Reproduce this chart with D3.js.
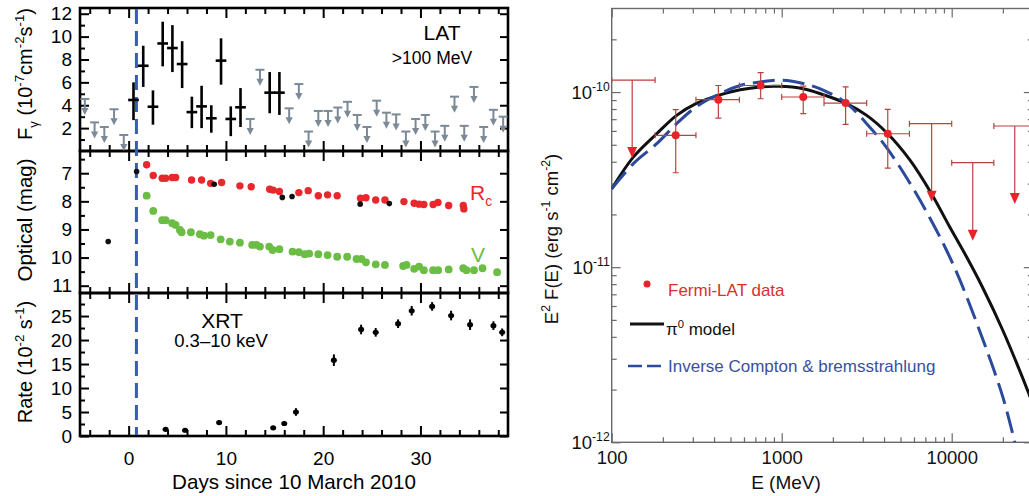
<!DOCTYPE html>
<html>
<head>
<meta charset="utf-8">
<script src="https://cdn.jsdelivr.net/npm/d3@7"></script>
<style>
  body { margin: 0; background: #fff; }
  svg text { font-family: "Liberation Sans", Arial, Helvetica, sans-serif; white-space: pre; }
</style>
</head>
<body>
<svg id="chart" width="1029" height="496"></svg>
<script>
// ---------------- Light curves (days since 10 March 2010) ----------------
// Fermi-LAT daily flux >100 MeV, units 1e-7 ph cm^-2 s^-1
const latDays = [0.5, 1.5, 2.5, 3.5, 4.5, 5.5, 6.5, 7.5, 8.5, 9.5, 10.5, 11.5, 14.5, 15.5];
const latFlux = [4.46, 7.45, 3.87, 9.4, 9.0, 7.6, 3.4, 3.9, 2.86, 7.9, 2.8, 3.82, 5.1, 5.1];
const latLow  = [2.7, 5.6, 2.3, 7.4, 6.9, 5.5, 2.0, 2.0, 1.6, 5.8, 1.3, 2.1, 3.3, 3.15];
const latHigh = [6.0, 9.2, 5.3, 11.3, 11.0, 9.6, 4.75, 5.7, 4.0, 9.85, 3.9, 5.5, 6.9, 6.9];
// LAT daily upper limits
const latUlDays = [-4.5, -3.5, -2.5, -1.5, -0.5, 12.5, 13.5, 16.5, 17.5, 18.5, 19.5, 20.5, 21.5, 22.5,
                   23.5, 24.5, 25.5, 26.5, 27.5, 28.5, 29.5, 30.5, 31.5, 32.5, 33.5, 34.5, 35.5, 36.5, 37.5, 38.5];
const latUl = [4.55, 2.5, 2.1, 3.65, 1.4, 2.8, 7.1, 3.73, 5.85, 1.7, 3.5, 3.5, 3.8, 4.3,
               3.15, 2.1, 4.4, 3.35, 3.2, 1.7, 2.8, 3.15, 1.7, 2.2, 4.75, 2.2, 5.6, 2.1, 3.6, 3.0];

// Optical photometry (mag)
const rcDays = [1.85, 2.53, 3.45, 3.8, 4.48, 4.83, 6.47, 7.5, 8.43, 9.56, 11.44, 12.6, 14.5, 14.86, 15.5,
                17.5, 18.46, 19.5, 20.45, 21.44, 23.84, 24.4, 25.4, 26.35, 28.3, 29.35, 29.86, 30.35,
                31.3, 31.8, 32.9, 34.4, 34.46];
const rcMag  = [6.70, 7.08, 7.18, 7.18, 7.15, 7.15, 7.24, 7.24, 7.36, 7.33, 7.45, 7.48, 7.57, 7.6, 7.65,
                7.69, 7.62, 7.8, 7.77, 7.8, 7.89, 7.87, 7.95, 7.95, 8.01, 8.07, 8.1, 8.11,
                8.11, 8.04, 8.15, 8.15, 8.27];
const vDays = [1.85, 2.53, 3.45, 3.8, 4.48, 4.83, 5.27, 5.45, 6.4, 7.33, 7.74, 8.43, 9.46, 10.4, 11.44,
               12.7, 13.15, 13.5, 14.45, 14.8, 15.5, 16.85, 17.5, 18.1, 18.56, 19.5, 20.45, 21.44,
               22.47, 23.43, 23.94, 24.4, 25.4, 26.35, 28.22, 28.57, 29.35, 29.86, 30.35, 31.3, 31.82,
               32.9, 34.4, 34.73, 35.5, 36.38, 37.88];
const vMag  = [7.8, 8.34, 8.67, 8.67, 8.78, 8.84, 9.02, 9.1, 9.1, 9.17, 9.22, 9.2, 9.35, 9.43, 9.47,
               9.55, 9.55, 9.61, 9.61, 9.73, 9.7, 9.79, 9.81, 9.88, 9.86, 9.88, 9.91, 9.97,
               9.97, 10.05, 10.05, 10.17, 10.24, 10.26, 10.3, 10.26, 10.4, 10.32, 10.45, 10.45, 10.45,
               10.42, 10.38, 10.45, 10.45, 10.38, 10.52];
const preDays = [-2.1, 0.82, 8.8, 15.8, 16.8, 23.8, 26.8];
const preMag  = [9.43, 6.94, 7.39, 7.86, 7.83, 8.1, 8.08];

// Swift XRT count rate 0.3-10 keV, units 1e-2 s^-1
const xrtDays = [3.8, 5.8, 9.3, 14.86, 16.0, 17.2, 21.1, 23.9, 25.4, 27.7, 29.1, 31.2, 33.15, 35.1, 37.5, 38.4];
const xrtRate = [1.4, 1.2, 2.8, 1.7, 2.6, 5.0, 15.8, 22.2, 21.6, 23.4, 26.1, 27.0, 25.1, 23.2, 23.0, 21.6];
const xrtErr  = [0.4, 0.4, 0.5, 0.4, 0.5, 0.8, 1.2, 1.0, 0.9, 0.9, 1.0, 0.9, 1.0, 1.1, 0.9, 0.8];

const discoveryDay = 0.8;

// Axis tick values
const dayMajor = [0, 10, 20, 30];
const dayMinor = [-4, -2, 2, 4, 6, 8, 12, 14, 16, 18, 22, 24, 26, 28, 32, 34, 36, 38];
const latMajor = [2, 4, 6, 8, 10, 12];
const latMinor = [1, 3, 5, 7, 9, 11];
const optMajor = [7, 8, 9, 10, 11];
const optMinor = [6.5, 7.5, 8.5, 9.5, 10.5];
const xrtMajor = [0, 5, 10, 15, 20, 25];
const xrtMinor = [2.5, 7.5, 12.5, 17.5, 22.5, 27.5];

// ---------------- Gamma-ray spectrum ----------------
const specE    = [238, 424, 752, 1339, 2377, 4206];
const specELo  = [180, 313, 564, 1000, 1774, 3162];
const specEHi  = [313, 564, 1000, 1774, 3162, 5640];
const specF    = [5.66e-11, 9.05e-11, 1.09e-10, 9.37e-11, 8.65e-11, 5.78e-11];
const specFLo  = [3.46e-11, 7.1e-11, 9.16e-11, 7.53e-11, 6.53e-11, 3.68e-11];
const specFHi  = [7.93e-11, 1.09e-10, 1.29e-10, 1.08e-10, 1.07e-10, 7.96e-11];
const ulE   = [132, 7620, 13300, 23500];
const ulELo = [100, 5640, 10000, 17700];
const ulEHi = [180, 10000, 17700, 31500];
const ulF   = [1.17e-10, 6.6e-11, 3.95e-11, 6.4e-11];

// Model curves
const pionE = [100, 134, 184, 241, 313, 424, 570, 746, 955, 1339, 1755, 2377, 3162, 4206, 5700, 7620,
               9760, 12200, 15330, 20000, 28000, 30000];
const pionF = [2.8e-11, 4.25e-11, 5.78e-11, 7.36e-11, 8.59e-11, 9.57e-11, 1.03e-10, 1.07e-10, 1.078e-10,
               1.045e-10, 9.66e-11, 8.65e-11, 7.36e-11, 5.78e-11, 4.07e-11, 2.62e-11,
               1.69e-11, 1.15e-11, 7.53e-12, 4.35e-12, 1.97e-12, 1.65e-12];
const icE = [100, 134, 184, 241, 313, 433, 570, 746, 1000, 1339, 1780, 2420, 3162, 4120, 5700, 7400,
             9140, 11200, 15330, 20000, 23500];
const icF = [2.8e-11, 3.9e-11, 5.07e-11, 6.6e-11, 8.21e-11, 9.79e-11, 1.09e-10, 1.14e-10, 1.17e-10,
             1.12e-10, 1.02e-10, 8.59e-11, 6.6e-11, 4.85e-11, 3.0e-11, 1.93e-11,
             1.3e-11, 8.4e-12, 3.81e-12, 1.81e-12, 1.0e-12];

const eMajor = [100, 1000, 10000];
const eMinor = [200, 300, 400, 500, 600, 700, 800, 900, 2000, 3000, 4000, 5000, 6000, 7000, 8000, 9000, 20000];
const fMajor = [1e-12, 1e-11, 1e-10];
const fMinor = [2e-12, 3e-12, 4e-12, 5e-12, 6e-12, 7e-12, 8e-12, 9e-12,
                2e-11, 3e-11, 4e-11, 5e-11, 6e-11, 7e-11, 8e-11, 9e-11, 2e-10];

// ---------------- Drawing ----------------
const FONT = '"Liberation Sans", Arial, Helvetica, sans-serif';
const svg = d3.select('#chart');
svg.append('rect').attr('width', 1029).attr('height', 496).attr('fill', '#fff');

// text with super/subscripts: parts are strings or [string, 'sup'|'sub']
function rich(sel, parts, size) {
  let cur = 0;
  parts.forEach(p => {
    const [s, kind] = typeof p === 'string' ? [p, 'n'] : p;
    const off = kind === 'sup' ? -0.42 * size : kind === 'sub' ? 0.3 * size : 0;
    const t = sel.append('tspan').attr('dy', off - cur).text(s);
    if (kind !== 'n') t.attr('font-size', size * 0.66);
    cur = off;
  });
  return sel;
}

const LX0 = 80, LX1 = 508;
const xDay = d3.scaleLinear().domain([-5, 39]).range([LX0, LX1]);
const yLat = d3.scaleLinear().domain([0, 12.5]).range([151, 8]);
const yOpt = d3.scaleLinear().domain([6.21, 11.26]).range([151, 293]);
const yXrt = d3.scaleLinear().domain([0, 29.8]).range([436, 293]);
const intFmt = d3.format('d');

function styleAxis(g, width) {
  g.select('.domain').remove();
  g.attr('font-family', FONT).attr('font-size', 19);
  g.selectAll('line').attr('stroke', '#000').attr('stroke-width', width);
  g.selectAll('text').attr('fill', '#000');
}

function leftPanel(yScale, majors, minors, showXLabels) {
  const top = Math.min(...yScale.range()), bot = Math.max(...yScale.range());
  const g = svg.append('g');
  // y ticks
  g.append('g').attr('transform', `translate(${LX0},0)`)
    .call(d3.axisLeft(yScale).tickValues(majors).tickSizeInner(-9).tickSizeOuter(0).tickPadding(8).tickFormat(intFmt))
    .call(a => styleAxis(a, 2));
  g.append('g').attr('transform', `translate(${LX0},0)`)
    .call(d3.axisLeft(yScale).tickValues(minors).tickSizeInner(-5).tickSizeOuter(0).tickFormat(''))
    .call(a => styleAxis(a, 2));
  g.append('g').attr('transform', `translate(${LX1},0)`)
    .call(d3.axisRight(yScale).tickValues(majors).tickSizeInner(-8).tickSizeOuter(0).tickFormat(''))
    .call(a => styleAxis(a, 2));
  // x ticks top and bottom
  g.append('g').attr('transform', `translate(0,${top})`)
    .call(d3.axisTop(xDay).tickValues(dayMajor).tickSizeInner(-10).tickSizeOuter(0).tickFormat(''))
    .call(a => styleAxis(a, 2));
  g.append('g').attr('transform', `translate(0,${top})`)
    .call(d3.axisTop(xDay).tickValues(dayMinor).tickSizeInner(-6).tickSizeOuter(0).tickFormat(''))
    .call(a => styleAxis(a, 2));
  g.append('g').attr('transform', `translate(0,${bot})`)
    .call(d3.axisBottom(xDay).tickValues(dayMajor).tickSizeInner(-10).tickSizeOuter(0).tickPadding(16)
      .tickFormat(showXLabels ? intFmt : ''))
    .call(a => styleAxis(a, 2));
  g.append('g').attr('transform', `translate(0,${bot})`)
    .call(d3.axisBottom(xDay).tickValues(dayMinor).tickSizeInner(-6).tickSizeOuter(0).tickFormat(''))
    .call(a => styleAxis(a, 2));
  g.append('rect').attr('x', LX0).attr('y', top).attr('width', LX1 - LX0).attr('height', bot - top)
    .attr('fill', 'none').attr('stroke', '#000').attr('stroke-width', 2.6);
  return g;
}

leftPanel(yLat, latMajor, latMinor, false);
leftPanel(yOpt, optMajor, optMinor, false);
leftPanel(yXrt, xrtMajor, xrtMinor, true);

// discovery line
svg.append('line')
  .attr('x1', xDay(discoveryDay)).attr('x2', xDay(discoveryDay))
  .attr('y1', yLat.range()[1] + 1).attr('y2', yXrt.range()[0] - 1)
  .attr('stroke', '#3a5cb0').attr('stroke-width', 3).attr('stroke-dasharray', '15,7');

// LAT upper limits
const ulColor = '#7c8996';
const ulG = svg.append('g');
latUlDays.forEach((d, i) => {
  const x = xDay(d), y = yLat(latUl[i]);
  ulG.append('line').attr('x1', x - 4.5).attr('x2', x + 4.5).attr('y1', y).attr('y2', y)
    .attr('stroke', ulColor).attr('stroke-width', 2);
  ulG.append('line').attr('x1', x).attr('x2', x).attr('y1', y).attr('y2', y + 10)
    .attr('stroke', ulColor).attr('stroke-width', 2);
  ulG.append('path').attr('d', `M${x - 3.6},${y + 9}L${x + 3.6},${y + 9}L${x},${y + 16}Z`).attr('fill', ulColor);
});

// LAT detections
const latG = svg.append('g');
latDays.forEach((d, i) => {
  const x = xDay(d), y = yLat(latFlux[i]);
  latG.append('line').attr('x1', x).attr('x2', x).attr('y1', yLat(latLow[i])).attr('y2', yLat(latHigh[i]))
    .attr('stroke', '#000').attr('stroke-width', 2.6);
  latG.append('line').attr('x1', xDay(d - 0.55)).attr('x2', xDay(d + 0.55)).attr('y1', y).attr('y2', y)
    .attr('stroke', '#000').attr('stroke-width', 2.6);
});

svg.append('text').attr('x', 442).attr('y', 40).attr('text-anchor', 'middle').attr('font-size', 21).text('LAT');
svg.append('text').attr('x', 432).attr('y', 64).attr('text-anchor', 'middle').attr('font-size', 17.5).text('>100 MeV');

// Optical
const optG = svg.append('g');
rcDays.forEach((d, i) => optG.append('circle').attr('cx', xDay(d)).attr('cy', yOpt(rcMag[i])).attr('r', 3.7).attr('fill', '#e8282c'));
vDays.forEach((d, i) => optG.append('circle').attr('cx', xDay(d)).attr('cy', yOpt(vMag[i])).attr('r', 3.9).attr('fill', '#6cbd45'));
preDays.forEach((d, i) => optG.append('circle').attr('cx', xDay(d)).attr('cy', yOpt(preMag[i])).attr('r', 2.8).attr('fill', '#111'));

rich(svg.append('text').attr('x', 470).attr('y', 200).attr('font-size', 21).attr('fill', '#e8282c'), ['R', ['c', 'sub']], 21);
svg.append('text').attr('x', 471).attr('y', 262).attr('font-size', 21).attr('fill', '#6cbd45').text('V');

// XRT
const xrtG = svg.append('g');
xrtDays.forEach((d, i) => {
  const x = xDay(d);
  xrtG.append('line').attr('x1', x).attr('x2', x)
    .attr('y1', yXrt(xrtRate[i] - xrtErr[i])).attr('y2', yXrt(xrtRate[i] + xrtErr[i]))
    .attr('stroke', '#000').attr('stroke-width', 2);
  xrtG.append('ellipse').attr('cx', x).attr('cy', yXrt(xrtRate[i])).attr('rx', 3).attr('ry', 2.6).attr('fill', '#000');
});
svg.append('text').attr('x', 222).attr('y', 328).attr('text-anchor', 'middle').attr('font-size', 21).text('XRT');
svg.append('text').attr('x', 221).attr('y', 347).attr('text-anchor', 'middle').attr('font-size', 18.5).text('0.3\u201310 keV');

// Left axis titles
rich(svg.append('text').attr('transform', 'translate(32,74) rotate(-90)').attr('text-anchor', 'middle').attr('font-size', 20),
  ['F', ['\u03b3', 'sub'], ' (10', ['-7', 'sup'], 'cm', ['-2', 'sup'], 's', ['-1', 'sup'], ')'], 20);
svg.append('text').attr('transform', 'translate(32,220) rotate(-90)').attr('text-anchor', 'middle').attr('font-size', 20.5)
  .text('Optical (mag)');
rich(svg.append('text').attr('transform', 'translate(32,362) rotate(-90)').attr('text-anchor', 'middle').attr('font-size', 20),
  ['Rate (10', ['-2', 'sup'], ' s', ['-1', 'sup'], ')'], 20);
svg.append('text').attr('x', 294).attr('y', 489).attr('text-anchor', 'middle').attr('font-size', 20.6)
  .text('Days since 10 March 2010');

// ---------------- Right panel: spectrum ----------------
const RX0 = 611.7, RY0 = 8.5, RY1 = 442.3;
const xE = d3.scaleLog().domain([100, 30000]).range([RX0, RX0 + 170 * Math.log10(300)]);
const yF = d3.scaleLog().domain([1e-12, 3e-10]).range([RY1, RY0]);
const RX1 = xE.range()[1];

svg.append('clipPath').attr('id', 'specClip')
  .append('rect').attr('x', RX0).attr('y', RY0).attr('width', RX1 - RX0).attr('height', RY1 - RY0);

const frameColor = '#6a6a6a';
function styleR(g) {
  g.select('.domain').remove();
  g.attr('font-family', FONT).attr('font-size', 18.5);
  g.selectAll('line').attr('stroke', frameColor).attr('stroke-width', 1.2);
  g.selectAll('text').attr('fill', '#111');
}
const rg = svg.append('g');
rg.append('g').attr('transform', `translate(0,${RY1})`)
  .call(d3.axisBottom(xE).tickValues(eMajor).tickSizeInner(-9).tickSizeOuter(0).tickPadding(9).tickFormat(intFmt))
  .call(styleR);
rg.append('g').attr('transform', `translate(0,${RY1})`)
  .call(d3.axisBottom(xE).tickValues(eMinor).tickSizeInner(-5).tickSizeOuter(0).tickFormat(''))
  .call(styleR);
rg.append('g').attr('transform', `translate(0,${RY0})`)
  .call(d3.axisTop(xE).tickValues(eMajor).tickSizeInner(-9).tickSizeOuter(0).tickFormat(''))
  .call(styleR);
rg.append('g').attr('transform', `translate(0,${RY0})`)
  .call(d3.axisTop(xE).tickValues(eMinor).tickSizeInner(-5).tickSizeOuter(0).tickFormat(''))
  .call(styleR);
rg.append('g').attr('transform', `translate(${RX0},0)`)
  .call(d3.axisLeft(yF).tickValues(fMajor).tickSizeInner(-9).tickSizeOuter(0).tickFormat(''))
  .call(styleR);
rg.append('g').attr('transform', `translate(${RX0},0)`)
  .call(d3.axisLeft(yF).tickValues(fMinor).tickSizeInner(-5).tickSizeOuter(0).tickFormat(''))
  .call(styleR);
rg.append('g').attr('transform', `translate(${RX1},0)`)
  .call(d3.axisRight(yF).tickValues(fMajor).tickSizeInner(-9).tickSizeOuter(0).tickFormat(''))
  .call(styleR);
rg.append('g').attr('transform', `translate(${RX1},0)`)
  .call(d3.axisRight(yF).tickValues(fMinor).tickSizeInner(-5).tickSizeOuter(0).tickFormat(''))
  .call(styleR);
rg.append('rect').attr('x', RX0).attr('y', RY0).attr('width', RX1 - RX0).attr('height', RY1 - RY0)
  .attr('fill', 'none').attr('stroke', frameColor).attr('stroke-width', 1.4);

// y tick labels as powers of ten
fMajor.forEach(v => {
  rich(rg.append('text').attr('x', RX0 - 2).attr('y', yF(v) + 6.5).attr('text-anchor', 'end').attr('font-size', 18.5).attr('fill', '#111'),
    ['10', [String(Math.round(Math.log10(v))), 'sup']], 18.5);
});

// model curves
const curveLine = d3.line().x(d => xE(d[0])).y(d => yF(d[1])).curve(d3.curveCatmullRom);
const cg = svg.append('g').attr('clip-path', 'url(#specClip)');
cg.append('path').datum(pionE.map((e, i) => [e, pionF[i]])).attr('d', curveLine)
  .attr('fill', 'none').attr('stroke', '#111').attr('stroke-width', 3);
cg.append('path').datum(icE.map((e, i) => [e, icF[i]])).attr('d', curveLine)
  .attr('fill', 'none').attr('stroke', '#2b4a9c').attr('stroke-width', 3).attr('stroke-dasharray', '22,8');

// Fermi-LAT points
const errColor = '#b8423f', ptColor = '#e8242a';
const pg = svg.append('g').attr('clip-path', 'url(#specClip)');
function seg(x1, y1, x2, y2) {
  pg.append('line').attr('x1', x1).attr('y1', y1).attr('x2', x2).attr('y2', y2)
    .attr('stroke', errColor).attr('stroke-width', 1.2);
}
specE.forEach((e, i) => {
  const x = xE(e), y = yF(specF[i]);
  const xl = xE(specELo[i]), xh = xE(specEHi[i]);
  const yl = yF(specFLo[i]), yh = yF(specFHi[i]);
  seg(xl, y, xh, y); seg(xl, y - 3, xl, y + 3); seg(xh, y - 3, xh, y + 3);
  seg(x, yl, x, yh); seg(x - 3, yl, x + 3, yl); seg(x - 3, yh, x + 3, yh);
  pg.append('circle').attr('cx', x).attr('cy', y).attr('r', 4).attr('fill', ptColor);
});
const arrowLen = 78;
ulE.forEach((e, i) => {
  const x = xE(e), y = yF(ulF[i]);
  const xl = xE(ulELo[i]), xh = xE(ulEHi[i]);
  seg(xl, y, xh, y); seg(xl, y - 3, xl, y + 3); seg(xh, y - 3, xh, y + 3);
  seg(x, y, x, y + arrowLen - 8);
  pg.append('path').attr('d', `M${x - 5},${y + arrowLen - 11}L${x + 5},${y + arrowLen - 11}L${x},${y + arrowLen}Z`)
    .attr('fill', ptColor);
});

// legend
svg.append('circle').attr('cx', 647).attr('cy', 284).attr('r', 3.5).attr('fill', ptColor);
svg.append('text').attr('x', 668).attr('y', 296).attr('font-size', 17).attr('fill', '#d8302c').text('Fermi-LAT data');
svg.append('line').attr('x1', 630).attr('x2', 664).attr('y1', 324).attr('y2', 324)
  .attr('stroke', '#111').attr('stroke-width', 3);
rich(svg.append('text').attr('x', 666).attr('y', 335).attr('font-size', 17).attr('fill', '#111'),
  ['\u03c0', ['0', 'sup'], ' model'], 17);
svg.append('line').attr('x1', 628).attr('x2', 663).attr('y1', 366).attr('y2', 366)
  .attr('stroke', '#2b4a9c').attr('stroke-width', 2.5).attr('stroke-dasharray', '14,5');
svg.append('text').attr('x', 668).attr('y', 372).attr('font-size', 17).attr('fill', '#3a4fa0')
  .text('Inverse Compton & bremsstrahlung');

// right panel axis titles
rich(svg.append('text').attr('transform', 'translate(558,239) rotate(-90)').attr('text-anchor', 'middle').attr('font-size', 18.5).attr('fill', '#111'),
  ['E', ['2', 'sup'], ' F(E) (erg s', ['-1', 'sup'], ' cm', ['-2', 'sup'], ')'], 18.5);
svg.append('text').attr('x', 786).attr('y', 489).attr('text-anchor', 'middle').attr('font-size', 19).attr('fill', '#111')
  .text('E (MeV)');
</script>
</body>
</html>
